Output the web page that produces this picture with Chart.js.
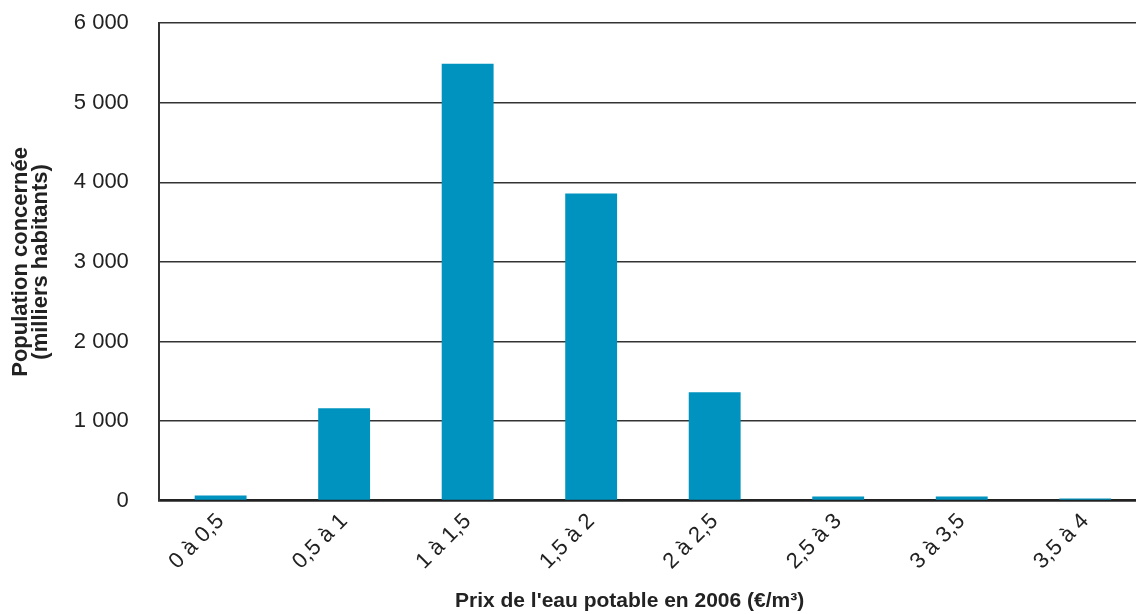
<!DOCTYPE html>
<html>
<head>
<meta charset="utf-8">
<script src="https://cdn.jsdelivr.net/npm/chart.js@4"></script>
<style>
  html, body { margin: 0; padding: 0; background: #fff; overflow: hidden; }
  #wrap { width: 1150px; height: 634px; margin-top: -20px; }
</style>
</head>
<body>
<div id="wrap"><canvas id="myChart"></canvas></div>
<script>
var categories = ['0 à 0,5', '0,5 à 1', '1 à 1,5', '1,5 à 2', '2 à 2,5', '2,5 à 3', '3 à 3,5', '3,5 à 4'];
var population = [65, 1160, 5490, 3860, 1360, 50, 50, 25];
var yTicks = [0, 1000, 2000, 3000, 4000, 5000, 6000];
var xTitle = "Prix de l'eau potable en 2006 (€/m³)";
var yTitle = ['Population concernée', '(milliers habitants)'];

function formatNumber(v) {
    return String(v).replace(/\B(?=(\d{3})+(?!\d))/g, ' ');
}

var ctx = document.getElementById('myChart').getContext('2d');
var myChart = new Chart(ctx, {
    type: 'bar',
    data: {
        labels: categories,
        datasets: [{
            label: 'Population',
            data: population,
            backgroundColor: '#0093bf',
            barPercentage: 0.42,
            categoryPercentage: 1
        }]
    },
    options: {
        responsive: true,
        maintainAspectRatio: false,
        animation: false,
        layout: { padding: { top: 8, right: 3, bottom: 0, left: 10 } },
        plugins: {
            legend: { display: false },
            tooltip: { enabled: false }
        },
        scales: {
            x: {
                grid: { display: false, drawTicks: false },
                border: { color: '#222', width: 2.5 },
                ticks: {
                    color: '#222',
                    font: { family: 'Liberation Sans, Arial', size: 22 },
                    maxRotation: 45,
                    minRotation: 45,
                    padding: 8
                },
                title: {
                    display: true,
                    text: xTitle + '        ',
                    color: '#222',
                    font: { family: 'Liberation Sans, Arial', size: 21, weight: 'bold' },
                    padding: { top: 6, bottom: 0 }
                }
            },
            y: {
                min: 0,
                max: 6000,
                afterBuildTicks: function(axis) {
                    axis.ticks = yTicks.map(function(v) { return { value: v }; });
                },
                grid: { color: '#333', lineWidth: 1.6, drawTicks: false },
                border: { color: '#333', width: 2 },
                ticks: {
                    color: '#222',
                    font: { family: 'Liberation Sans, Arial', size: 22 },
                    padding: 30,
                    callback: function(v) { return formatNumber(v); }
                },
                title: {
                    display: true,
                    text: yTitle,
                    color: '#222',
                    font: { family: 'Liberation Sans, Arial', size: 22, weight: 'bold', lineHeight: 0.95 },
                    padding: { top: 0, bottom: -8 }
                }
            }
        }
    }
});
</script>
</body>
</html>
